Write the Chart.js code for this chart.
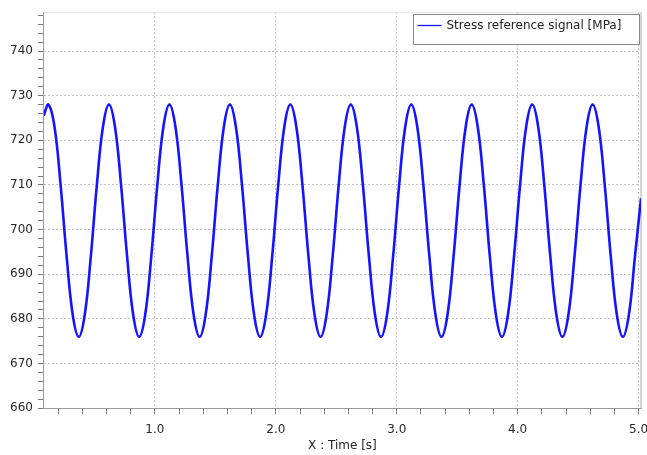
<!DOCTYPE html>
<html>
<head>
<meta charset="utf-8">
<script src="https://cdn.jsdelivr.net/npm/chart.js@4"></script>
<style>
  html, body { margin: 0; padding: 0; background: #fff; }
  #wrap { width: 647px; height: 455px; }
</style>
</head>
<body>
<div id="wrap"><canvas id="canvas" width="647" height="455"></canvas></div>
<script>
// time samples [s]
let times = [
    0.08,
    0.12, 0.17, 0.22, 0.27, 0.32, 0.37, 0.42, 0.47, 0.52, 0.57,
    0.62, 0.67, 0.72, 0.77, 0.82, 0.87, 0.92, 0.97, 1.02, 1.07,
    1.12, 1.17, 1.22, 1.27, 1.32, 1.37, 1.42, 1.47, 1.52, 1.57,
    1.62, 1.67, 1.72, 1.77, 1.82, 1.87, 1.92, 1.97, 2.02, 2.07,
    2.12, 2.17, 2.22, 2.27, 2.32, 2.37, 2.42, 2.47, 2.52, 2.57,
    2.62, 2.67, 2.72, 2.77, 2.82, 2.87, 2.92, 2.97, 3.02, 3.07,
    3.12, 3.17, 3.22, 3.27, 3.32, 3.37, 3.42, 3.47, 3.52, 3.57,
    3.62, 3.67, 3.72, 3.77, 3.82, 3.87, 3.92, 3.97, 4.02, 4.07,
    4.12, 4.17, 4.22, 4.27, 4.32, 4.37, 4.42, 4.47, 4.52, 4.57,
    4.62, 4.67, 4.72, 4.77, 4.82, 4.87, 4.92, 4.97,
    5.02
];

// stress values [MPa]
let stress = [
    725.5,
    728, 723, 710, 694, 681, 676, 681, 694, 710, 723,
    728, 723, 710, 694, 681, 676, 681, 694, 710, 723,
    728, 723, 710, 694, 681, 676, 681, 694, 710, 723,
    728, 723, 710, 694, 681, 676, 681, 694, 710, 723,
    728, 723, 710, 694, 681, 676, 681, 694, 710, 723,
    728, 723, 710, 694, 681, 676, 681, 694, 710, 723,
    728, 723, 710, 694, 681, 676, 681, 694, 710, 723,
    728, 723, 710, 694, 681, 676, 681, 694, 710, 723,
    728, 723, 710, 694, 681, 676, 681, 694, 710, 723,
    728, 723, 710, 694, 681, 676, 681, 694,
    707
];

let seriesLabel = 'Stress reference signal [MPa]';
let xTitle = 'X : Time [s]';
let xRange = [0.082, 5.02];
let yRange = [660, 748.7];

let fontFamily = '"DejaVu Sans", Tahoma, sans-serif';
let isWhole = (v, step) => Math.abs(v / step - Math.round(v / step)) < 1e-6;

let frame = {
    id: 'frame',
    beforeDatasetsDraw(chart) {
        let {ctx, chartArea: a} = chart;
        ctx.save();
        ctx.strokeStyle = '#e2e2e2';
        ctx.lineWidth = 1;
        ctx.beginPath();
        ctx.moveTo(a.left, a.top + 0.5);
        ctx.lineTo(a.right, a.top + 0.5);
        ctx.stroke();
        ctx.strokeStyle = '#d6d6d6';
        ctx.lineWidth = 2;
        ctx.beginPath();
        ctx.moveTo(a.right, a.top);
        ctx.lineTo(a.right, a.bottom);
        ctx.stroke();
        ctx.restore();
    }
};

let legendBox = {
    id: 'legendBox',
    afterDraw(chart) {
        let {ctx, chartArea: a} = chart;
        let ds = chart.data.datasets[0];
        ctx.save();
        ctx.font = '12px ' + fontFamily;
        let tw = ctx.measureText(ds.label).width;
        let w = Math.round(tw + 51), h = 30;
        let x = Math.round(a.right - 2 - w) + 0.5, y = Math.round(a.top + 2) + 0.5;
        ctx.fillStyle = '#fff';
        ctx.fillRect(x, y, w, h);
        ctx.strokeStyle = '#8a8a8a';
        ctx.lineWidth = 1;
        ctx.strokeRect(x, y, w, h);
        ctx.strokeStyle = ds.borderColor;
        ctx.lineWidth = 1.3;
        ctx.beginPath();
        ctx.moveTo(x + 4, y + 11);
        ctx.lineTo(x + 28, y + 11);
        ctx.stroke();
        ctx.fillStyle = '#222';
        ctx.textBaseline = 'middle';
        ctx.fillText(ds.label, x + 33, y + 11.5);
        ctx.restore();
    }
};

let ctx = document.getElementById('canvas').getContext('2d');

let chart = new Chart(ctx, {
    type: 'line',
    data: {
        datasets: [{
            label: seriesLabel,
            data: times.map((t, i) => ({x: t, y: stress[i]})),
            borderColor: 'rgb(20,20,255)',
            borderWidth: 2.6,
            pointRadius: 0,
            tension: 0.4,
            fill: false
        }]
    },
    options: {
        responsive: false,
        animation: false,
        layout: { padding: { left: 5, top: 10, right: 6, bottom: 0 } },
        plugins: {
            legend: { display: false },
            tooltip: { enabled: false }
        },
        scales: {
            x: {
                type: 'linear',
                min: xRange[0],
                max: xRange[1],
                afterFit: s => { s.paddingLeft = 0; s.paddingRight = 0; },
                ticks: {
                    stepSize: 0.2,
                    includeBounds: false,
                    autoSkip: false,
                    maxRotation: 0,
                    padding: 8,
                    color: '#2a2a2a',
                    font: { family: fontFamily, size: 12 },
                    callback: v => isWhole(v, 1) ? v.toFixed(1) : ''
                },
                grid: {
                    color: c => (c.tick && isWhole(c.tick.value, 1)) ? '#c4c4c4' : 'rgba(0,0,0,0)',
                    tickColor: '#7a7a7a',
                    tickLength: 6
                },
                border: { color: '#9a9a9a', dash: [2, 2] },
                title: {
                    display: true,
                    text: xTitle,
                    color: '#222',
                    font: { family: fontFamily, size: 12 },
                    padding: { top: -6, bottom: 2 }
                }
            },
            y: {
                min: yRange[0],
                max: yRange[1],
                ticks: {
                    stepSize: 2,
                    includeBounds: false,
                    autoSkip: false,
                    padding: 5,
                    color: '#2a2a2a',
                    font: { family: fontFamily, size: 12 },
                    callback: v => isWhole(v, 10) ? String(v) : ''
                },
                grid: {
                    color: c => (c.tick && isWhole(c.tick.value, 10)) ? '#c4c4c4' : 'rgba(0,0,0,0)',
                    tickColor: '#7a7a7a',
                    tickLength: 6
                },
                border: { color: '#9a9a9a', dash: [2, 2] }
            }
        }
    },
    plugins: [frame, legendBox]
});
</script>
</body>
</html>
